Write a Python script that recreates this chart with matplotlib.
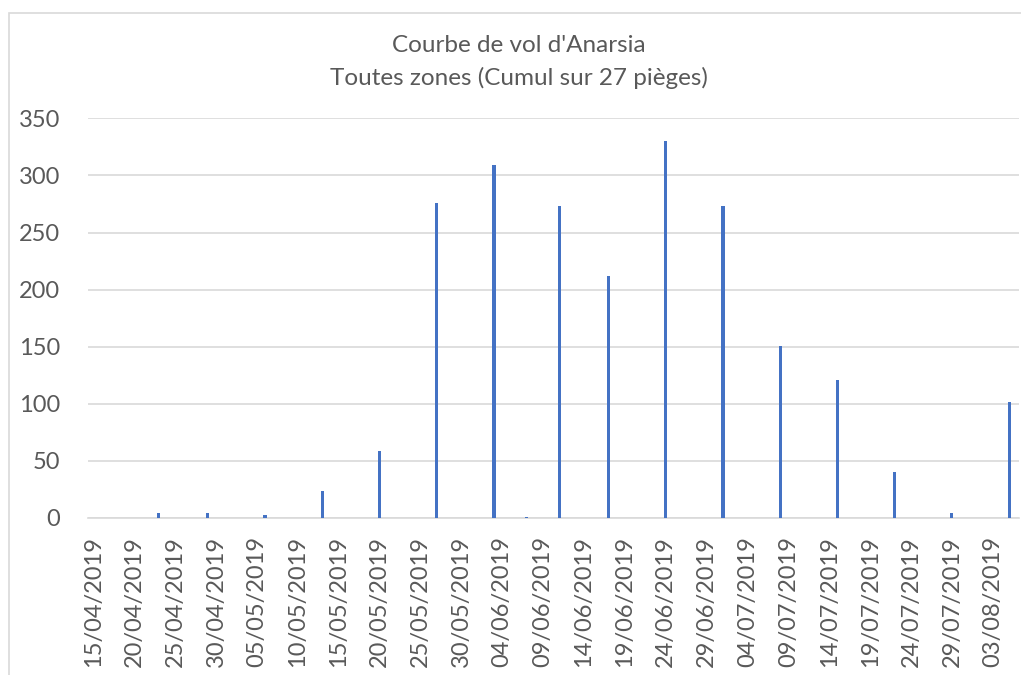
import numpy as np
import pandas as pd
import matplotlib
matplotlib.use("Agg")
import matplotlib.pyplot as plt
import matplotlib.dates as mdates
from matplotlib.patches import Rectangle

# trap counts (cumulated over 27 traps)
dates = ['23/04/2019', '29/04/2019', '06/05/2019', '13/05/2019', '20/05/2019',
         '27/05/2019', '03/06/2019', '07/06/2019', '11/06/2019', '17/06/2019',
         '24/06/2019', '01/07/2019', '08/07/2019', '15/07/2019', '22/07/2019',
         '29/07/2019', '05/08/2019']
captures = [4, 4, 3, 24, 59, 276, 309, 1, 273, 212, 330, 273, 151, 121, 40, 4, 102]

x_start = '15/04/2019'
x_end = '06/08/2019'
y_ticks = [0, 50, 100, 150, 200, 250, 300, 350]

title = "Courbe de vol d'Anarsia\nToutes zones (Cumul sur 27 pièges)"


def main():
    plt.rcParams['font.family'] = ['Lato', 'DejaVu Sans']
    text_col = '#595959'
    grid_col = '#D9D9D9'

    d = pd.to_datetime(dates, dayfirst=True)
    x = mdates.date2num(d)
    x0 = mdates.date2num(pd.to_datetime(x_start, dayfirst=True))
    x1 = mdates.date2num(pd.to_datetime(x_end, dayfirst=True))

    fig = plt.figure(figsize=(10.21, 6.75), dpi=100)
    ax = fig.add_axes([0.0862, 0.2326, 0.998 - 0.0862, 0.8247 - 0.2326])

    ax.bar(x, captures, width=0.38, color='#4472C4', zorder=3)

    ax.set_xlim(x0 - 0.65, x1 + 0.2)
    ax.set_ylim(0, 350)
    ax.set_yticks(y_ticks)
    ax.yaxis.grid(True, color=grid_col, linewidth=1.2, zorder=0)

    ticks = np.arange(x0, x1, 5)
    ax.set_xticks(ticks)
    ax.set_xticklabels([mdates.num2date(t).strftime('%d/%m/%Y') for t in ticks],
                       rotation=90, va='top', ha='center')

    for s in ['top', 'right', 'left']:
        ax.spines[s].set_visible(False)
    ax.spines['bottom'].set_color(grid_col)
    ax.spines['bottom'].set_linewidth(1.2)
    ax.tick_params(axis='both', length=0, labelsize=17, colors=text_col)
    ax.tick_params(axis='y', pad=20)
    ax.tick_params(axis='x', pad=13)

    fig.text(0.508, 0.908, title, ha='center', va='center', fontsize=17.5,
             color=text_col, linespacing=1.62)

    # light frame of the chart area
    fig.patches.append(Rectangle((9 / 1021, -0.1), 1.2, 1.1 - 13 / 675,
                                 transform=fig.transFigure, fill=False,
                                 edgecolor=grid_col, linewidth=1.2))

    fig.savefig('out.png', dpi=100)


if __name__ == "__main__":
    main()
